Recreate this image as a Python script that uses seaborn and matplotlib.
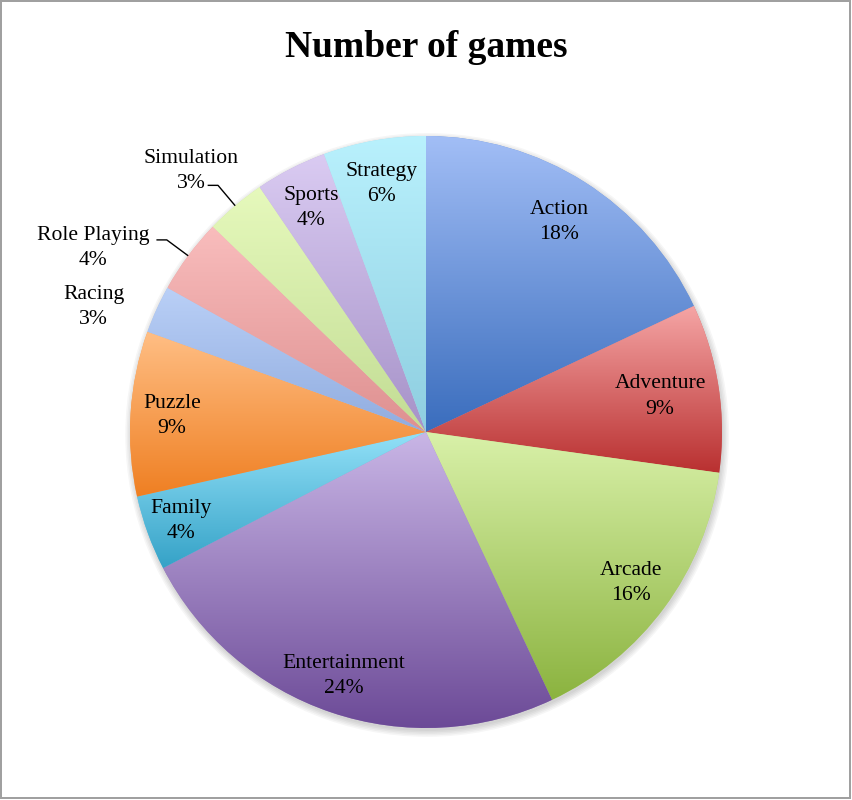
import numpy as np
import matplotlib
matplotlib.use("Agg")
import matplotlib.pyplot as plt
import seaborn as sns
from matplotlib.colors import to_rgb
from matplotlib.patches import Circle, Rectangle

# ---- data ----
categories = ["Action", "Adventure", "Arcade", "Entertainment", "Family", "Puzzle",
              "Racing", "Role Playing", "Simulation", "Sports", "Strategy"]
shares = [18.0, 9.2, 15.8, 24.4, 4.1, 9.0, 2.6, 4.1, 3.3, 3.9, 5.6]
title = "Number of games"

# ---- styles ----
grad_top = ["#A2BEF6", "#F5A5A5", "#D9F1A9", "#C9B6E6", "#93E1F8", "#FFBE84",
            "#BAD0F7", "#F9BDBD", "#E6F9BC", "#DACBF2", "#B9F1FD"]
grad_bottom = ["#3A6DBD", "#B93030", "#8BB33F", "#6C4A97", "#35A2C7", "#EF7F22",
               "#90ACDF", "#DE9090", "#C2DC94", "#A692C8", "#8ECEE0"]
label_dist = [0.84, 0.80, 0.86, 0.87, 0.88, 0.86, 1.20, 1.285, 1.186, 0.85, 0.85]
label_shift = [0, 0, 0, 0, 0, 0, 3.85, 7.6, 1.9, 0, 0]   # degrees, ccw
leader = [False, False, False, False, False, False, False, True, True, False, False]

sns.set_theme(style="white")
plt.rcParams["font.family"] = ["Liberation Serif", "DejaVu Serif"]

W, H = 852, 800
fig = plt.figure(figsize=(W / 100, H / 100), dpi=100)
fig.patch.set_facecolor("white")

cx, cy, R = 426, 432, 296
ax = fig.add_axes([(cx - R) / W, (H - cy - R) / H, 2 * R / W, 2 * R / H])

wedges, _ = ax.pie(shares, startangle=90, counterclock=False, radius=1.0,
                   center=(0, 0), frame=False,
                   wedgeprops=dict(linewidth=0))

# soft shadow
for k in range(5):
    ax.add_patch(Circle((0.004, -0.010), 1.0 + 0.005 * k, facecolor="black",
                        alpha=0.035, linewidth=0, zorder=0, clip_on=False))

n = 256
for i, w in enumerate(wedges):
    t = np.array(to_rgb(grad_top[i]))
    b = np.array(to_rgb(grad_bottom[i]))
    f = np.linspace(0, 1, n)[:, None]
    grad = (t[None, :] * (1 - f) + b[None, :] * f)[:, None, :]
    ext = w.get_path().get_extents()
    w.set_facecolor(tuple((t + b) / 2))
    w.set_zorder(1)
    im = ax.imshow(grad, extent=(ext.x0, ext.x1, ext.y0, ext.y1), origin="upper",
                   aspect="auto", interpolation="bilinear", zorder=2)
    im.set_clip_path(w)

total = sum(shares)
for i, w in enumerate(wedges):
    mid = np.deg2rad((w.theta1 + w.theta2) / 2)
    ang = mid + np.deg2rad(label_shift[i])
    d = label_dist[i]
    x, y = d * np.cos(ang), d * np.sin(ang)
    pct = shares[i] / total * 100
    ax.text(x, y, f"{categories[i]}\n{pct:.0f}%", ha="center", va="center",
            fontsize=15.6, color="black", linespacing=1.45, zorder=5, clip_on=False)
    if leader[i]:
        ex, ey = np.cos(mid), np.sin(mid)
        bx, by = 1.09 * np.cos(mid), 1.09 * np.sin(mid)
        ax.plot([ex, bx, bx - 0.035], [ey, by, by], color="black", lw=1.0,
                zorder=5, clip_on=False, solid_capstyle="butt")

ax.set_xlim(-1, 1)
ax.set_ylim(-1, 1)
ax.set_aspect("auto")
ax.axis("off")

fig.text(0.5, 1 - 57 / H, title, ha="center", va="baseline",
         fontsize=27, fontweight="bold", color="black")

fig.patches.append(Rectangle((1 / W, 1 - 797.5 / H), 848.5 / W, 796.5 / H,
                             transform=fig.transFigure, fill=False,
                             edgecolor="#A0A0A0", linewidth=1.44))

fig.savefig("out.png", dpi=100, facecolor="white")
